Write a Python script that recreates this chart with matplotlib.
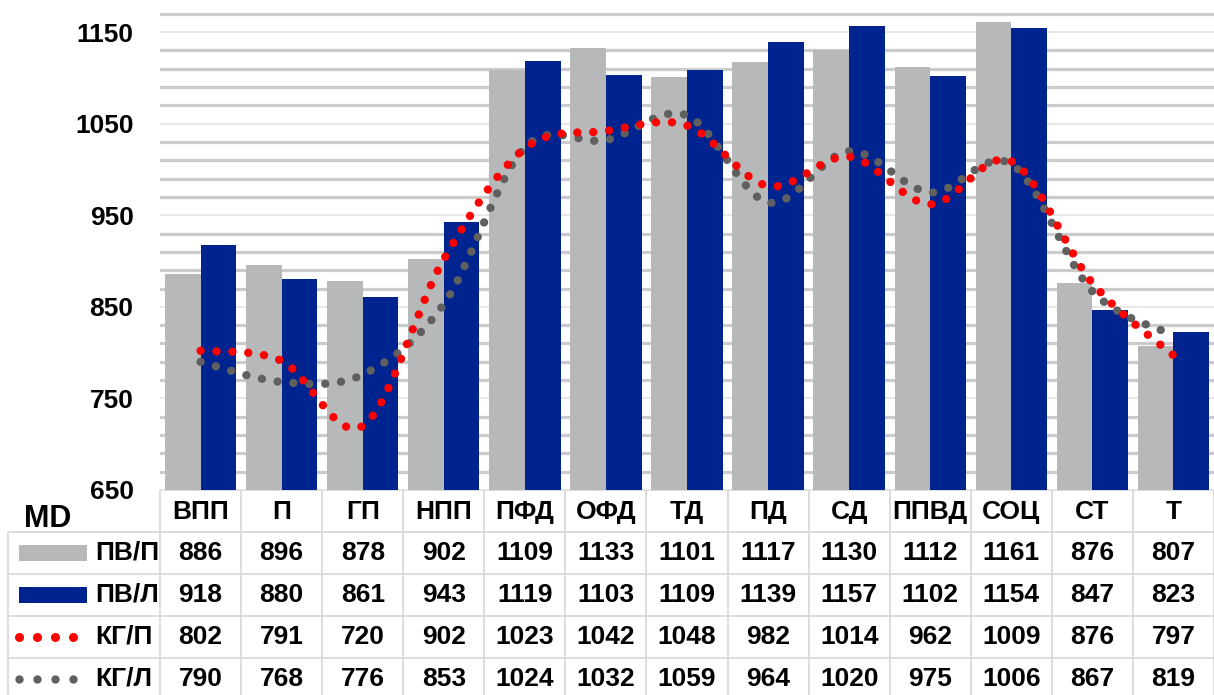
import numpy as np
import matplotlib.pyplot as plt
from matplotlib.path import Path
from matplotlib.patches import PathPatch, Rectangle

categories = ['ВПП', 'П', 'ГП', 'НПП', 'ПФД', 'ОФД', 'ТД', 'ПД', 'СД', 'ППВД', 'СОЦ', 'СТ', 'Т']
pv_p = [886, 896, 878, 902, 1109, 1133, 1101, 1117, 1130, 1112, 1161, 876, 807]
pv_l = [918, 880, 861, 943, 1119, 1103, 1109, 1139, 1157, 1102, 1154, 847, 823]
kg_p = [802, 791, 720, 902, 1023, 1042, 1048, 982, 1014, 962, 1009, 876, 797]
kg_l = [790, 768, 776, 853, 1024, 1032, 1059, 964, 1020, 975, 1006, 867, 819]
series_names = ['ПВ/П', 'ПВ/Л', 'КГ/П', 'КГ/Л']
y_ticks = [650, 750, 850, 950, 1050, 1150]

GRAY = '#b7b8ba'
BLUE = '#00248f'
RED = '#ff0000'
DGRAY = '#606060'
LINEC = '#dadada'

narrow = ['Liberation Sans Narrow', 'Liberation Sans', 'DejaVu Sans']
plt.rcParams['font.family'] = narrow
plt.rcParams['font.weight'] = 'bold'
FS = 19

W, H = 1214, 695
fig = plt.figure(figsize=(W / 100, H / 100), dpi=100)

# ---- chart
top_px, bot_px, left_px = 12, 490, 160
ax = fig.add_axes([left_px / W, 1 - bot_px / H, 1 - left_px / W, (bot_px - top_px) / H])
x = np.arange(len(categories))
bw = 0.44
ax.bar(x - bw / 2, pv_p, bw, color=GRAY, zorder=2)
ax.bar(x + bw / 2, pv_l, bw, color=BLUE, zorder=2)


def smooth_path(xs, ys):
    # bezier control points like excel's smoothed line
    pts = np.column_stack([xs, ys]).astype(float)
    n = len(pts)
    verts = [pts[0]]
    codes = [Path.MOVETO]
    for i in range(n - 1):
        p0 = pts[max(i - 1, 0)]
        p1 = pts[i]
        p2 = pts[i + 1]
        p3 = pts[min(i + 2, n - 1)]
        verts += [p1 + (p2 - p0) / 6, p2 - (p3 - p1) / 6, p2]
        codes += [Path.CURVE4] * 3
    return Path(verts, codes)


for vals, col, lw in [(kg_l, DGRAY, 6.0), (kg_p, RED, 6.0)]:
    pp = PathPatch(smooth_path(x, vals), fill=False, edgecolor=col, lw=lw,
                   linestyle=(0, (0.01, 1.9)), capstyle='round', zorder=3)
    ax.add_patch(pp)

ax.set_xlim(-0.5, len(categories) - 0.5)
ax.set_ylim(650, 1172)
ax.set_yticks(y_ticks)
ax.set_yticks(np.arange(650, 1171, 20), minor=True)
ax.set_xticks([])
ax.grid(which='major', axis='y', color='#e4e4e4', lw=1.2, zorder=0)
ax.grid(which='minor', axis='y', color='#cbcbcb', lw=2.3, zorder=0)
ax.tick_params(axis='y', which='both', length=0, pad=19, labelsize=FS)
for s in ax.spines.values():
    s.set_visible(False)

# ---- table
cw = (W - left_px) / len(categories)
tax = fig.add_axes([0, 0, 1, (H - bot_px) / H])
x0 = -0.5 - left_px / cw
tax.set_xlim(x0, len(categories) - 0.5)
rh = 42
tax.set_ylim((H - bot_px) / rh, 0)
tax.axis('off')

lx = x0 + 8 / cw  # left border of label column
tax.hlines(0, -0.5, len(categories) - 0.5, color=LINEC, lw=1.3)
tax.hlines([1, 2, 3, 4], lx, len(categories) - 0.5, color=LINEC, lw=1.3)
tax.vlines(np.arange(len(categories) + 1) - 0.5, 0, 5, color=LINEC, lw=1.3)
tax.vlines(lx, 1, 5, color=LINEC, lw=1.3)

tax.text(x0 + 48 / cw, 0.68, 'MD', fontsize=22, ha='center', va='center',
         family=['Liberation Sans', 'DejaVu Sans'])
for i, c in enumerate(categories):
    tax.text(i, 0.52, c, fontsize=FS, ha='center', va='center')

rows = [pv_p, pv_l, kg_p, kg_l]
for r, (vals, name) in enumerate(zip(rows, series_names)):
    yc = r + 1.5
    tax.text(x0 + 95 / cw, yc, name, fontsize=FS, ha='left', va='center')
    for i, v in enumerate(vals):
        tax.text(i, yc, str(v), fontsize=FS, ha='center', va='center')

# legend keys inside the table
for r, col in [(0, GRAY), (1, BLUE)]:
    tax.add_patch(Rectangle((x0 + 19 / cw, r + 1.5 - 8 / rh), 68 / cw, 16 / rh,
                            color=col, lw=0))
dot_x = x0 + np.array([19, 37, 55, 73]) / cw
tax.plot(dot_x, [3.5] * 4, 'o', color=RED, ms=6.5, mew=0)
tax.plot(dot_x, [4.5] * 4, 'o', color=DGRAY, ms=6, mew=0)

fig.savefig('out.png', dpi=100)
